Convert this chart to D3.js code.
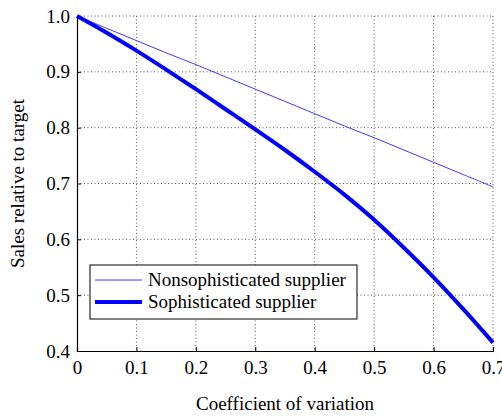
<!DOCTYPE html>
<html>
<head>
<meta charset="utf-8">
<script src="https://cdn.jsdelivr.net/npm/d3@7"></script>
<style>
  body { margin: 0; background: #fff; }
  svg text { font-family: "Liberation Serif", "DejaVu Serif", serif; fill: #000; }
</style>
</head>
<body>
<svg id="chart" width="502" height="417"></svg>
<script>
// Chart data
const xValues = [0, 0.05, 0.1, 0.15, 0.2, 0.25, 0.3, 0.35, 0.4, 0.45, 0.5, 0.55, 0.6, 0.65, 0.7];
const nonsophisticated = [1.0, 0.978, 0.956, 0.934, 0.913, 0.891, 0.869, 0.847, 0.825, 0.803, 0.782, 0.760, 0.738, 0.716, 0.694];
const sophisticated = [1.0, 0.970, 0.938, 0.904, 0.869, 0.833, 0.797, 0.760, 0.721, 0.680, 0.635, 0.585, 0.532, 0.475, 0.415];
const xTicks = [0, 0.1, 0.2, 0.3, 0.4, 0.5, 0.6, 0.7];
const yTicks = [0.4, 0.5, 0.6, 0.7, 0.8, 0.9, 1.0];
const seriesList = [
  { label: "Nonsophisticated supplier", values: nonsophisticated, color: "#3a3aff", width: 1 },
  { label: "Sophisticated supplier", values: sophisticated, color: "#0000ff", width: 4 }
];

const svg = d3.select("#chart");
const margin = { top: 16, right: 9, bottom: 66, left: 77 };
const width = 502 - margin.left - margin.right;
const height = 417 - margin.top - margin.bottom;
const fontSize = "19px";

const x = d3.scaleLinear().domain([0, 0.7]).range([0, width]);
const y = d3.scaleLinear().domain([0.4, 1.0]).range([height, 0]);

const g = svg.append("g").attr("transform", `translate(${margin.left},${margin.top})`);

// Dotted grid
g.append("g")
  .selectAll("line")
  .data(xTicks.slice(1))
  .join("line")
  .attr("x1", d => x(d)).attr("x2", d => x(d))
  .attr("y1", 0).attr("y2", height)
  .attr("stroke", "#555").attr("stroke-width", 1)
  .attr("stroke-dasharray", "1,2.5");

g.append("g")
  .selectAll("line")
  .data(yTicks.slice(1))
  .join("line")
  .attr("x1", 0).attr("x2", width)
  .attr("y1", d => y(d)).attr("y2", d => y(d))
  .attr("stroke", "#555").attr("stroke-width", 1)
  .attr("stroke-dasharray", "1,2.5");

// Axes with inward ticks
const xAxis = g.append("g")
  .attr("transform", `translate(0,${height})`)
  .call(d3.axisBottom(x).tickValues(xTicks).tickSize(-4).tickPadding(10)
    .tickFormat(d => d === 0 ? "0" : d3.format(".1f")(d)));
const yAxis = g.append("g")
  .call(d3.axisLeft(y).tickValues(yTicks).tickSize(-4).tickPadding(7).tickFormat(d3.format(".1f")));

[xAxis, yAxis].forEach(a => {
  a.attr("font-family", null).attr("font-size", null);
  a.select(".domain").attr("stroke", "#000").attr("stroke-width", 1.2);
  a.selectAll(".tick line").attr("stroke", "#000");
  a.selectAll(".tick text").style("font-size", fontSize);
});

// Lines
const line = d3.line()
  .x((d, i) => x(xValues[i]))
  .y(d => y(d))
  .curve(d3.curveCatmullRom);

seriesList.forEach(s => {
  g.append("path")
    .datum(s.values)
    .attr("fill", "none")
    .attr("stroke", s.color)
    .attr("stroke-width", s.width)
    .attr("d", line);
});

// Axis titles
svg.append("text")
  .attr("x", margin.left + width / 2)
  .attr("y", 410)
  .attr("text-anchor", "middle")
  .style("font-size", fontSize)
  .text("Coefficient of variation");

svg.append("text")
  .attr("transform", `translate(24,${margin.top + height / 2}) rotate(-90)`)
  .attr("text-anchor", "middle")
  .style("font-size", fontSize)
  .text("Sales relative to target");

// Legend
const legend = svg.append("g").attr("transform", "translate(90,265)");
legend.append("rect")
  .attr("width", 267).attr("height", 54)
  .attr("fill", "#fff").attr("stroke", "#000").attr("stroke-width", 1);

const entries = legend.selectAll(".legend-entry")
  .data(seriesList)
  .join("g")
  .attr("class", "legend-entry")
  .attr("transform", (d, i) => `translate(5, ${15 + i * 22})`);

entries.append("line")
  .attr("x1", 0).attr("x2", 47)
  .attr("stroke", d => d.color)
  .attr("stroke-width", d => d.width);

entries.append("text")
  .attr("x", 53).attr("y", 6)
  .style("font-size", fontSize)
  .text(d => d.label);
</script>
</body>
</html>
